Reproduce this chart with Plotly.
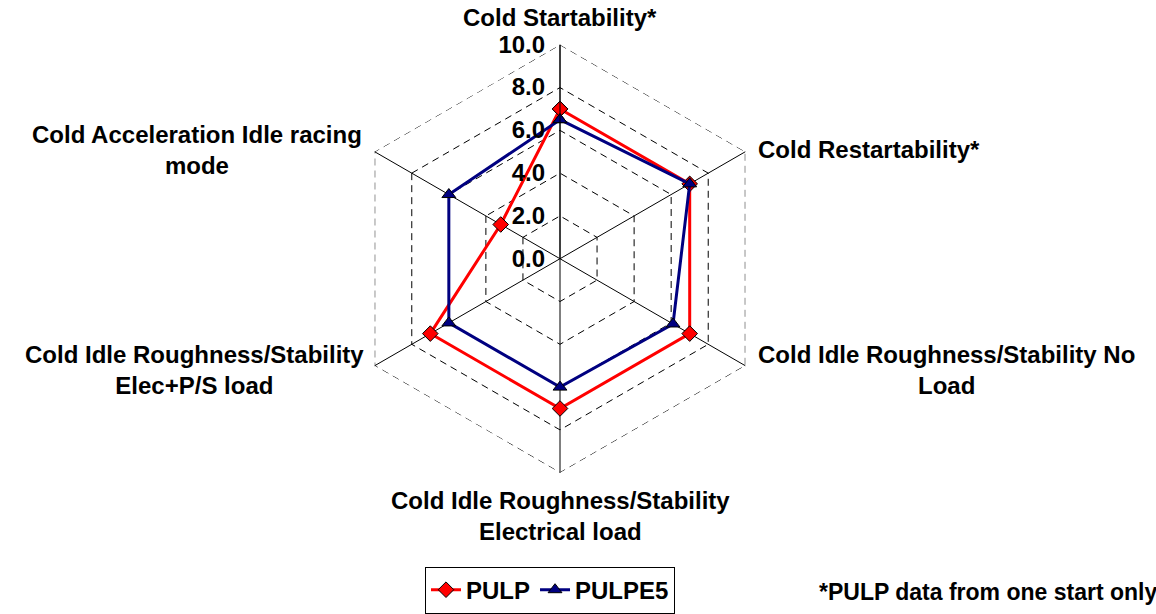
import math
import plotly.graph_objects as go

categories = [
    "Cold Startability*",
    "Cold Restartability*",
    "Cold Idle Roughness/Stability No Load",
    "Cold Idle Roughness/Stability Electrical load",
    "Cold Idle Roughness/Stability Elec+P/S load",
    "Cold Acceleration Idle racing mode",
]
label_text = [
    "Cold Startability*",
    "Cold Restartability*",
    "Cold Idle Roughness/Stability No<br>Load",
    "Cold Idle Roughness/Stability<br>Electrical load",
    "Cold Idle Roughness/Stability<br>Elec+P/S load",
    "Cold Acceleration Idle racing<br>mode",
]
pulp = [7.0, 7.0, 7.0, 7.0, 7.0, 3.2]
pulpe5 = [6.5, 7.0, 6.1, 6.0, 6.0, 6.0]
radial_ticks = [0, 2, 4, 6, 8, 10]
footnote = "*PULP data from one start only"

W, H = 1156, 614
FONT = "Arial, Liberation Sans, sans-serif"
FS = 24

# polar geometry (pixels)
cx_px, cy_px, R_px = 560, 260, 215
dom_x = [(cx_px - R_px) / W, (cx_px + R_px) / W]
dom_y = [(H - cy_px - R_px) / H, (H - cy_px + R_px) / H]
r_max = max(radial_ticks)

fig = go.Figure()
# outer dashed grid ring at the top tick value (Excel-style dashed frame)
fig.add_trace(go.Scatterpolar(
    r=[r_max] * (len(categories) + 1), theta=categories + categories[:1],
    mode="lines", line=dict(color="black", width=1, dash="7px,5px"),
    hoverinfo="skip", showlegend=False,
))
fig.add_trace(go.Scatterpolar(
    r=pulp + pulp[:1], theta=categories + categories[:1], name="PULP",
    mode="lines+markers",
    line=dict(color="#FF0000", width=3),
    marker=dict(symbol="diamond", size=12, color="#FF0000",
                line=dict(color="black", width=1)),
))
fig.add_trace(go.Scatterpolar(
    r=pulpe5 + pulpe5[:1], theta=categories + categories[:1], name="PULPE5",
    mode="lines+markers",
    line=dict(color="#000080", width=3),
    marker=dict(symbol="triangle-up", size=12, color="#000080",
                line=dict(color="black", width=1)),
))

fig.update_layout(
    width=W, height=H,
    margin=dict(l=0, r=0, t=0, b=0),
    paper_bgcolor="white", plot_bgcolor="white",
    font=dict(family=FONT, size=FS, color="black", weight="bold"),
    polar=dict(
        domain=dict(x=dom_x, y=dom_y),
        bgcolor="white",
        gridshape="linear",
        radialaxis=dict(
            range=[0, r_max], tickvals=radial_ticks, tickformat=".1f",
            angle=90, tickangle=90, side="counterclockwise",
            showline=True, linecolor="black", linewidth=1,
            showgrid=True, gridcolor="black", gridwidth=1, griddash="7px,5px",
            ticks="outside", ticklen=6, tickcolor="rgba(0,0,0,0)",
            tickfont=dict(family=FONT, size=FS, color="black", weight="bold"),
        ),
        angularaxis=dict(
            direction="clockwise", rotation=90,
            showline=False, showticklabels=False, ticks="",
            showgrid=True, gridcolor="black", gridwidth=1,
        ),
    ),
    legend=dict(
        orientation="h", x=550 / W, y=(H - 593) / H,
        xanchor="center", yanchor="middle",
        bordercolor="black", borderwidth=1, bgcolor="white",
        font=dict(family=FONT, size=FS, color="black", weight="bold"),
        itemwidth=30,
    ),
    showlegend=True,
)

# category labels placed around the polygon vertices
cxp = (dom_x[0] + dom_x[1]) / 2
cyp = (dom_y[0] + dom_y[1]) / 2
Rx, Ry = R_px / W, R_px / H
specs = [
    dict(xanchor="center", yanchor="bottom", xshift=0, yshift=12),
    dict(xanchor="left", yanchor="middle", xshift=10, yshift=2),
    dict(xanchor="left", yanchor="middle", xshift=10, yshift=-4),
    dict(xanchor="center", yanchor="top", xshift=0, yshift=-12),
    dict(xanchor="right", yanchor="middle", xshift=-8, yshift=-4),
    dict(xanchor="right", yanchor="middle", xshift=-10, yshift=2),
]
for i, (txt, sp) in enumerate(zip(label_text, specs)):
    th = math.radians(60 * i)
    fig.add_annotation(
        x=cxp + Rx * math.sin(th), y=cyp + Ry * math.cos(th),
        xref="paper", yref="paper", text=txt, showarrow=False,
        align="center", font=dict(family=FONT, size=FS, color="black", weight="bold"),
        **sp,
    )

fig.add_annotation(
    x=817 / W, y=(H - 595) / H, xref="paper", yref="paper",
    text=footnote, showarrow=False, xanchor="left", yanchor="middle",
    font=dict(family=FONT, size=FS - 1, color="black", weight="bold"),
)

fig.write_html("out.html")
